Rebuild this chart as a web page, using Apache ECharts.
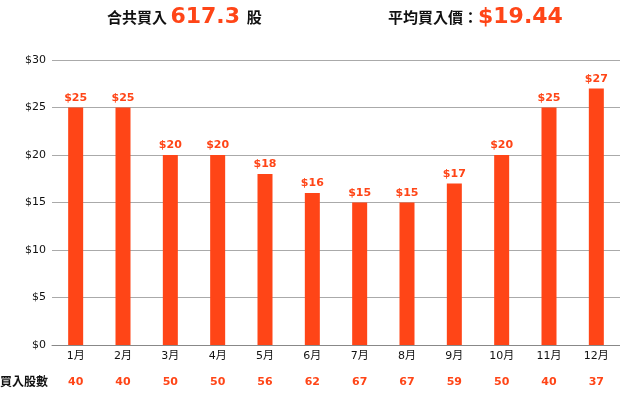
<!DOCTYPE html>
<html><head><meta charset="utf-8">
<script src="https://cdn.jsdelivr.net/npm/echarts@6/dist/echarts.min.js"></script>
<style>html,body{margin:0;padding:0;background:#fff}#c{width:620px;height:394px}</style>
</head><body><div id="c"></div>
<script>
const months = ['1月','2月','3月','4月','5月','6月','7月','8月','9月','10月','11月','12月'];
const prices = [25,25,20,20,18,16,15,15,17,20,25,27];
const shares = [40,40,50,50,56,62,67,67,59,50,40,37];
const yTicks = [0,5,10,15,20,25,30];
const totalShares = '617.3';
const avgPrice = '$19.44';
const ORANGE = '#FF4517';
const NUMFONT = '"DejaVu Sans", "Noto Sans CJK TC", sans-serif';
const CJK = '"Noto Sans CJK TC", sans-serif';

const chart = echarts.init(document.getElementById('c'));
chart.setOption({
  animation: false,
  title: [
    { left: 102, top: 1, text: '{a|合共買入 }{b|' + totalShares + '}{a|  股}',
      textStyle: { rich: {
        a: { fontFamily: CJK, fontWeight: 'bold', fontSize: 15, color: '#111' },
        b: { fontFamily: NUMFONT, fontWeight: 'bold', fontSize: 22, color: ORANGE }
      }}},
    { left: 383, top: 1, text: '{a|平均買入價：}{b|' + avgPrice + '}',
      textStyle: { rich: {
        a: { fontFamily: CJK, fontWeight: 'bold', fontSize: 15, color: '#111' },
        b: { fontFamily: NUMFONT, fontWeight: 'bold', fontSize: 22, color: ORANGE }
      }}}
  ],
  graphic: [
    { type: 'text', left: 0, top: 375, style: { text: '買入股數', fontFamily: CJK, fontWeight: 'bold', fontSize: 12, fill: '#111' } }
  ],
  grid: { left: 52, right: 0, top: 60, bottom: 49 },
  xAxis: [
    { type: 'category', data: months, position: 'bottom',
      axisLine: { lineStyle: { color: '#888', width: 1 } },
      axisTick: { show: false },
      axisLabel: { color: '#111', fontSize: 11, fontFamily: NUMFONT, margin: 6 } },
    { type: 'category', data: shares, position: 'bottom', offset: 30,
      axisLine: { show: false }, axisTick: { show: false },
      axisLabel: { color: ORANGE, fontSize: 11, fontWeight: 'bold', fontFamily: NUMFONT, margin: 2 } }
  ],
  yAxis: {
    type: 'value', min: yTicks[0], max: yTicks[yTicks.length - 1], interval: 5,
    axisLine: { show: false }, axisTick: { show: false },
    axisLabel: { color: '#111', fontSize: 11, fontFamily: NUMFONT, margin: 6, formatter: v => '$' + v },
    splitLine: { lineStyle: { color: '#aaa', width: 1 } }
  },
  series: [{
    type: 'bar', data: prices, barWidth: 15, xAxisIndex: 0,
    itemStyle: { color: ORANGE },
    label: { show: true, position: 'top', distance: 4, color: ORANGE, fontSize: 11, fontWeight: 'bold', fontFamily: NUMFONT, formatter: p => '$' + p.value }
  }]
});
</script></body></html>
